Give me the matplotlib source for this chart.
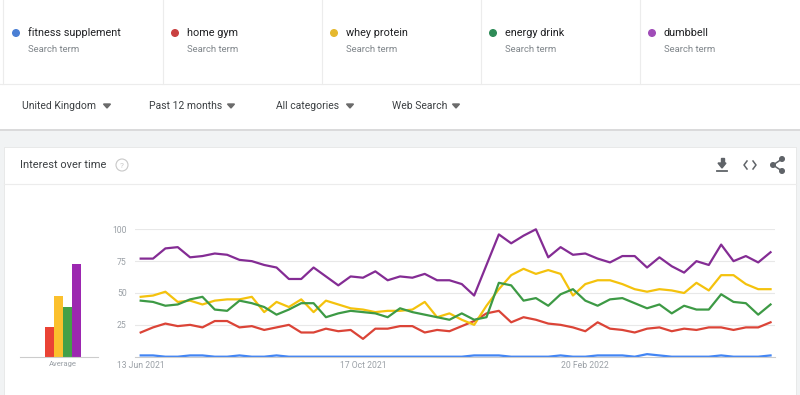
import numpy as np
import matplotlib
matplotlib.use("Agg")
import matplotlib.pyplot as plt
from matplotlib.patches import Rectangle, Circle, Polygon

plt.rcParams['font.family'] = ['Roboto', 'DejaVu Sans']

# weekly values, 13 Jun 2021 .. 5 Jun 2022
terms = ["fitness supplement", "home gym", "whey protein", "energy drink", "dumbbell"]
colores = ["#4285f4", "#db4437", "#f4c20d", "#3d9a45", "#842c94"]
puntos = ["#4a7fd4", "#c94040", "#e5b82e", "#2e8b57", "#a04cb8"]
barras = ["#4285f4", "#ea4335", "#fbc02d", "#43a047", "#9c27b0"]

fitness = [1, 1, 0, 0, 1, 1, 0, 0, 1, 0, 0, 1, 0, 0, 0, 0, 0, 0, 0, 0, 0, 0, 0, 0, 0, 0,
           0, 1, 1, 1, 0, 0, 0, 0, 1, 0, 0, 1, 1, 1, 0, 2, 1, 0, 0, 0, 0, 1, 0, 0, 0, 1]
home_gym = [19, 23, 26, 24, 25, 23, 28, 28, 23, 24, 21, 23, 25, 19, 19, 22, 20, 21, 14, 22, 22, 24, 24, 19, 21, 20,
            24, 28, 34, 36, 27, 31, 29, 26, 25, 23, 20, 27, 22, 21, 19, 22, 23, 20, 22, 21, 23, 23, 21, 23, 23, 27]
whey = [47, 48, 51, 43, 44, 41, 44, 45, 45, 47, 35, 43, 39, 45, 35, 44, 41, 38, 37, 35, 36, 36, 37, 43, 31, 34,
        29, 25, 40, 53, 64, 69, 65, 68, 65, 48, 57, 60, 60, 57, 53, 51, 53, 52, 50, 58, 52, 64, 64, 57, 53, 53]
energy = [44, 43, 40, 41, 45, 47, 37, 36, 44, 42, 39, 33, 37, 42, 42, 31, 34, 36, 35, 34, 31, 38, 35, 33, 31, 29,
          34, 29, 31, 58, 56, 44, 46, 40, 49, 53, 44, 40, 45, 46, 42, 38, 41, 34, 40, 37, 37, 49, 43, 42, 33, 41]
dumbbell = [77, 77, 85, 86, 78, 79, 81, 80, 76, 75, 72, 70, 61, 61, 70, 63, 56, 63, 62, 67, 60, 63, 62, 65, 60, 60,
            57, 48, 72, 96, 89, 95, 100, 78, 86, 80, 81, 77, 74, 79, 79, 70, 78, 71, 66, 75, 72, 88, 75, 79, 74, 82]
series = [fitness, home_gym, whey, energy, dumbbell]
promedios = [0, 23, 48, 39, 73]

fechas_idx = [0, 18, 36]
fechas = ["13 Jun 2021", "17 Oct 2021", "20 Feb 2022"]
filtros = ["United Kingdom", "Past 12 months", "All categories", "Web Search"]

W, H = 800, 395
fig = plt.figure(figsize=(W / 100, H / 100), dpi=100)
fig.patch.set_facecolor("#f1f3f4")


def caja(x0, y0, x1, y1):
    # pixel box (top-left origin) -> figure fraction
    return [x0 / W, 1 - y1 / H, (x1 - x0) / W, (y1 - y0) / H]


# decoration layer in pixel coordinates
fondo = fig.add_axes([0, 0, 1, 1])
fondo.set_xlim(0, W)
fondo.set_ylim(H, 0)
fondo.axis("off")
fondo.add_patch(Rectangle((0, 0), W, 129, facecolor="white", edgecolor="none"))
fondo.plot([0, W], [129.5, 129.5], color="#d6d6d6", lw=1.2)
fondo.plot([0, W], [84, 84], color="#ececec", lw=0.8)
for xv in [3, 163, 322, 481, 640]:
    fondo.plot([xv, xv], [0, 84], color="#ececec", lw=0.8)
for i, t in enumerate(terms):
    x0 = 3 + i * 159
    fondo.add_patch(Circle((x0 + 13, 33), 3.3, color=puntos[i]))
    fondo.text(x0 + 25, 33, t, fontsize=7.8, color="#202124", va="center")
    fondo.text(x0 + 25, 49, "Search term", fontsize=6.8, color="#80868b", va="center")

filtro_x = [22, 149, 276, 392]
flecha_x = [107, 231, 350, 456]
for fx, ax_, txt in zip(filtro_x, flecha_x, filtros):
    fondo.text(fx, 106, txt, fontsize=7.5, color="#3c4043", va="center")
    fondo.add_patch(Polygon([[ax_ - 3.5, 104], [ax_ + 3.5, 104], [ax_, 108]], closed=True,
                            color="#6b6b6b"))

# card
fondo.add_patch(Rectangle((4, 147), 792, 250, facecolor="white", edgecolor="#e6e6e6", lw=0.6))
fondo.plot([4, 796], [184, 184], color="#ececec", lw=0.8)
fondo.text(20, 165, "Interest over time", fontsize=7.9, color="#3c4043", va="center")
fondo.add_patch(Circle((122, 165), 6, facecolor="none", edgecolor="#c8c8c8", lw=0.8))
fondo.text(122, 165.5, "?", fontsize=6, color="#c8c8c8", ha="center", va="center")

# download icon
fondo.add_patch(Polygon([[718, 163], [726, 163], [722, 168]], closed=True, color="#5f6368"))
fondo.add_patch(Rectangle((720.5, 158), 3, 5.5, color="#5f6368"))
fondo.plot([717, 727], [171, 171], color="#5f6368", lw=1.3)
# embed icon
fondo.plot([747, 744, 747], [161, 165, 169], color="#5f6368", lw=1.1)
fondo.plot([753, 756, 753], [161, 165, 169], color="#5f6368", lw=1.1)
# share icon
fondo.plot([782, 773, 782], [159, 165, 171], color="#5f6368", lw=1.1)
for cx, cy in [(782, 159), (773, 165), (782, 171)]:
    fondo.add_patch(Circle((cx, cy), 2.3, color="#5f6368"))

# main chart
ax = fig.add_axes(caja(135, 229.3, 775, 356.7))
x = np.arange(len(dumbbell))
for s, c in zip(series, colores):
    ax.plot(x, s, color=c, lw=1.6, solid_joinstyle="round", clip_on=False)
ax.set_xlim(-0.46, 51.36)
ax.set_ylim(0, 100)
ax.set_yticks([25, 50, 75, 100])
ax.set_yticklabels(["25", "50", "75", "100"], fontsize=6.2, color="#9aa0a6")
ax.yaxis.grid(True, color="#e8e8e8", lw=0.8)
ax.set_axisbelow(True)
ax.tick_params(axis="y", length=0, pad=6)
ax.set_xticks(fechas_idx)
ax.set_xticklabels(fechas, fontsize=6.2, color="#9aa0a6")
ax.tick_params(axis="x", length=0, pad=3)
for sp in ["top", "right", "left"]:
    ax.spines[sp].set_visible(False)
ax.spines["bottom"].set_color("#cccccc")
ax.spines["bottom"].set_linewidth(0.8)
ax.patch.set_alpha(0)

# average bars
axb = fig.add_axes(caja(20, 229.3, 98, 356.7))
axb.bar(range(len(promedios)), promedios, width=1.0, color=barras)
axb.set_xlim(-2.28, 6.39)
axb.set_ylim(0, 100)
axb.set_xticks([2.5])
axb.set_xticklabels(["Average"], fontsize=5.5, color="#9aa0a6")
axb.tick_params(axis="x", length=0, pad=3)
axb.set_yticks([])
for sp in ["top", "right", "left"]:
    axb.spines[sp].set_visible(False)
axb.spines["bottom"].set_color("#cccccc")
axb.spines["bottom"].set_linewidth(0.8)
axb.patch.set_alpha(0)

fig.savefig("out.png", dpi=100, facecolor=fig.get_facecolor())
